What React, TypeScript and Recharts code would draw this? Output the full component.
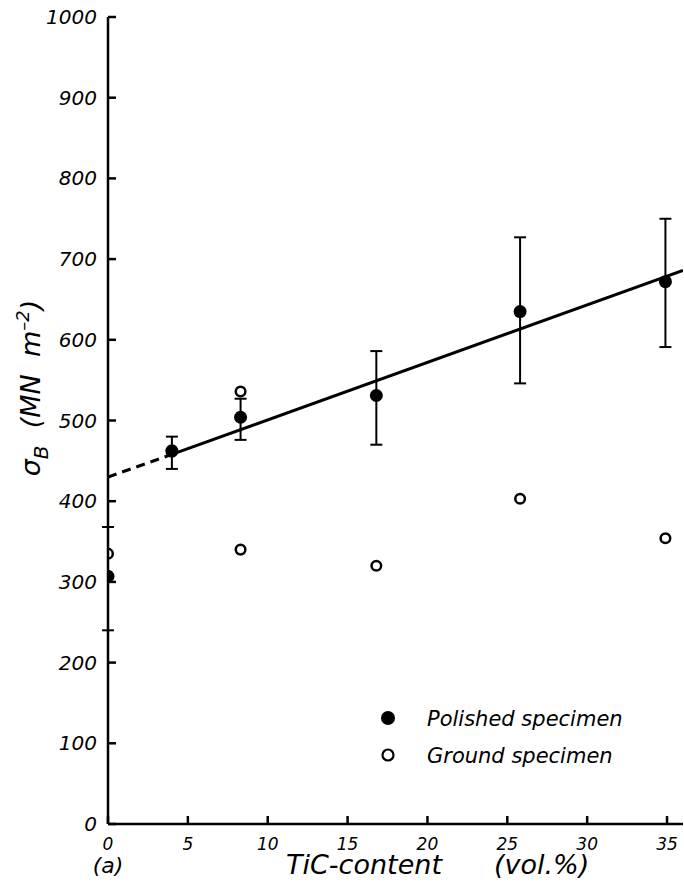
import React from 'react';
import { ComposedChart, Scatter, Line, XAxis, YAxis, ErrorBar, Legend } from 'recharts';

const FONT = '"DejaVu Sans", "Liberation Sans", Arial, sans-serif';

// Polished specimens (filled circles) with error bars
const TIC_POLISHED = [0, 4, 8.3, 16.8, 25.8, 34.9];
const SIGMA_POLISHED = [307, 462, 504, 531, 635, 672];
const SIGMA_POLISHED_LOW = [240, 440, 476, 470, 546, 591];
const SIGMA_POLISHED_HIGH = [368, 480, 527, 586, 727, 750];

// Ground specimens (open circles)
const TIC_GROUND = [0, 4, 8.3, 8.3, 16.8, 25.8, 34.9];
const SIGMA_GROUND = [335, 463, 536, 340, 320, 403, 354];

// Fitted line: dashed extrapolation and solid part
const FIT_DASHED_X = [0, 4];
const FIT_DASHED_Y = [430, 458];
const FIT_SOLID_X = [4, 36];
const FIT_SOLID_Y = [458, 686];

const X_TICKS = [0, 5, 10, 15, 20, 25, 30, 35];
const Y_TICKS = [0, 100, 200, 300, 400, 500, 600, 700, 800, 900, 1000];

const polishedData = TIC_POLISHED.map((x, i) => ({
  x,
  y: SIGMA_POLISHED[i],
  err: [SIGMA_POLISHED[i] - SIGMA_POLISHED_LOW[i], SIGMA_POLISHED_HIGH[i] - SIGMA_POLISHED[i]],
}));
const groundData = TIC_GROUND.map((x, i) => ({ x, y: SIGMA_GROUND[i] }));
const dashedData = FIT_DASHED_X.map((x, i) => ({ x, y: FIT_DASHED_Y[i] }));
const solidData = FIT_SOLID_X.map((x, i) => ({ x, y: FIT_SOLID_Y[i] }));

const TICK_LEN = 8;
const Y_MARGIN = 19; // label gap = Y_MARGIN - TICK_LEN
const X_MARGIN = 34;

const YTick = (props: any) => {
  const { x, y, payload } = props;
  const axisX = x + Y_MARGIN - TICK_LEN;
  return (
    <g>
      <line x1={axisX} x2={axisX + TICK_LEN} y1={y} y2={y} stroke="#000" strokeWidth={2.5} />
      <text x={x} y={y} textAnchor="end" dominantBaseline="central" fontFamily={FONT} fontStyle="italic" fontSize={20} fill="#000">
        {payload.value}
      </text>
    </g>
  );
};

const XTick = (props: any) => {
  const { x, y, payload } = props;
  const axisY = y - X_MARGIN + TICK_LEN;
  return (
    <g>
      <line x1={x} x2={x} y1={axisY} y2={axisY - TICK_LEN} stroke="#000" strokeWidth={2.5} />
      <text x={x} y={y} textAnchor="middle" fontFamily={FONT} fontStyle="italic" fontSize={17} fill="#000">
        {payload.value}
      </text>
    </g>
  );
};

const FilledDot = (props: any) => {
  const { cx, cy } = props;
  return <circle cx={cx} cy={cy} r={6.5} fill="#000" />;
};
const OpenDot = (props: any) => {
  const { cx, cy } = props;
  return <circle cx={cx} cy={cy} r={4.8} fill="none" stroke="#000" strokeWidth={2.5} />;
};

const YLabel = () => {
  const cx = 40;
  const cy = 388;
  return (
    <text
      x={cx}
      y={cy}
      transform={`rotate(-90, ${cx}, ${cy})`}
      textAnchor="middle"
      fontFamily={FONT}
      fontStyle="italic"
      fontSize={27}
      fill="#000"
    >
      <tspan>σ</tspan>
      <tspan dy={8} fontSize={20}>B</tspan>
      <tspan dy={-8}>{'\u00A0\u00A0(MN\u00A0\u00A0m'}</tspan>
      <tspan dy={-11} fontSize={18}>{'\u2013' + '2'}</tspan>
      <tspan dy={11}>)</tspan>
    </text>
  );
};

const XLabel = () => (
  <g>
    <text x={286} y={874} textAnchor="start" fontFamily={FONT} fontStyle="italic" fontSize={27} fill="#000">
      TiC-content
    </text>
    <text x={494} y={874} textAnchor="start" fontFamily={FONT} fontStyle="italic" fontSize={27} fill="#000">
      (vol.%)
    </text>
    <text x={108} y={873} textAnchor="middle" fontFamily={FONT} fontStyle="italic" fontSize={22} fill="#000">
      (a)
    </text>
  </g>
);

const LegendContent = () => (
  <svg width={280} height={80} style={{ overflow: 'visible', display: 'block' }}>
    <circle cx={13} cy={18} r={7} fill="#000" />
    <text x={52} y={26} fontFamily={FONT} fontStyle="italic" fontSize={21} fill="#000">Polished specimen</text>
    <circle cx={13} cy={55} r={5.5} fill="none" stroke="#000" strokeWidth={2.2} />
    <text x={52} y={63} fontFamily={FONT} fontStyle="italic" fontSize={21} fill="#000">Ground specimen</text>
  </svg>
);

export default function App() {
  return (
    <div style={{ position: 'absolute', left: 0, top: 0, background: '#fff' }}>
      <ComposedChart width={684} height={886} margin={{ top: 17, right: 1, bottom: 0, left: 0 }}>
        <XAxis
          dataKey="x"
          type="number"
          domain={[0, 36]}
          ticks={X_TICKS}
          allowDataOverflow
          height={62}
          tickLine={false}
          tickSize={-TICK_LEN}
          tickMargin={X_MARGIN}
          tick={<XTick />}
          axisLine={{ stroke: '#000', strokeWidth: 2.5 }}
          label={<XLabel />}
        />
        <XAxis
          xAxisId="top"
          orientation="top"
          dataKey="x"
          type="number"
          domain={[0, 36]}
          height={0}
          tick={false}
          tickLine={false}
          axisLine={{ stroke: '#000', strokeWidth: 2.5 }}
        />
        <YAxis
          dataKey="y"
          type="number"
          domain={[0, 1000]}
          ticks={Y_TICKS}
          allowDataOverflow
          width={108}
          tickLine={false}
          tickSize={-TICK_LEN}
          tickMargin={Y_MARGIN}
          tick={<YTick />}
          axisLine={{ stroke: '#000', strokeWidth: 2.5 }}
          label={<YLabel />}
        />
        <YAxis
          yAxisId="right"
          orientation="right"
          dataKey="y"
          type="number"
          domain={[0, 1000]}
          width={0}
          tick={false}
          tickLine={false}
          axisLine={{ stroke: '#000', strokeWidth: 2.5 }}
        />
        <Line data={dashedData} dataKey="y" stroke="#000" strokeWidth={3} strokeDasharray="9 6" dot={false} isAnimationActive={false} legendType="none" />
        <Line data={solidData} dataKey="y" stroke="#000" strokeWidth={3} dot={false} isAnimationActive={false} legendType="none" />
        <Scatter name="Polished specimen" data={polishedData} dataKey="y" shape={<FilledDot />} isAnimationActive={false}>
          <ErrorBar dataKey="err" direction="y" width={6} stroke="#000" strokeWidth={2} />
        </Scatter>
        <Scatter name="Ground specimen" data={groundData} dataKey="y" shape={<OpenDot />} isAnimationActive={false} />
        <Legend
          layout="horizontal"
          verticalAlign="middle"
          align="center"
          content={<LegendContent />}
          wrapperStyle={{ position: 'absolute', left: 375, top: 700, width: 280, height: 80 }}
        />
      </ComposedChart>
    </div>
  );
}
